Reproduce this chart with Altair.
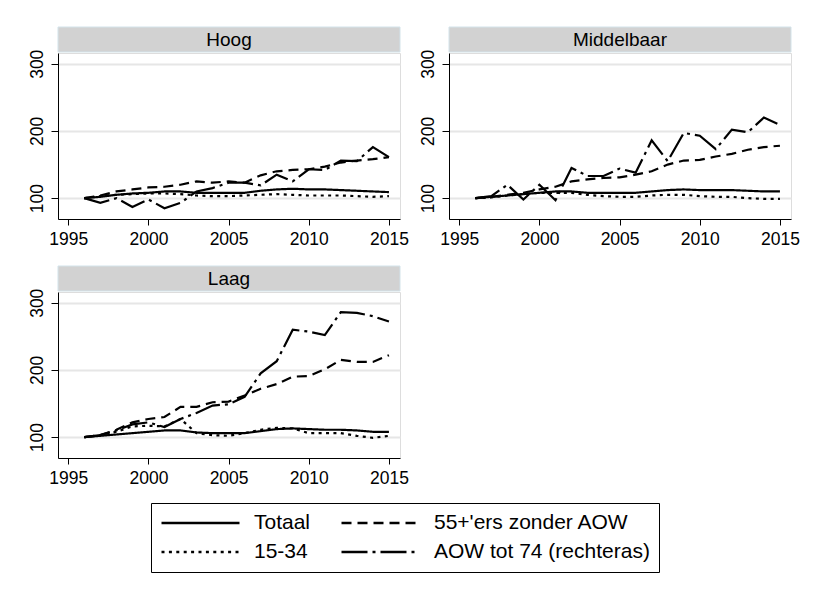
import altair as alt
import pandas as pd

FONT = "Liberation Sans"

jaren = list(range(1996, 2016))
niveaus = ["Hoog", "Middelbaar", "Laag"]
reeksen = ["Totaal", "15-34", "55+'ers zonder AOW", "AOW tot 74 (rechteras)"]
strepen = [[1, 0], [3, 4.4], [10, 6], [26, 5, 3, 5]]

totaal_h = [100, 102, 105, 107, 108, 110, 110, 108, 108, 108, 108, 111, 113, 114, 113, 113, 112, 111, 110, 109]
jong_h = [100, 103, 105, 106, 107, 107, 106, 104, 103, 103, 104, 105, 106, 105, 104, 104, 104, 103, 102, 103]
oud_h = [100, 104, 110, 113, 116, 117, 120, 125, 123, 125, 123, 134, 140, 142, 143, 147, 153, 156, 158, 161]
aow_h = [100, 93, 100, 87, 98, 85, 93, 110, 115, 123, 123, 119, 135, 125, 143, 142, 156, 155, 176, 161]

totaal_m = [100, 102, 104, 106, 108, 110, 110, 108, 108, 108, 108, 110, 112, 113, 112, 112, 112, 111, 110, 110]
jong_m = [100, 101, 104, 106, 108, 108, 108, 105, 103, 102, 102, 104, 105, 105, 103, 102, 102, 100, 99, 99]
oud_m = [100, 102, 105, 108, 113, 117, 125, 128, 130, 131, 135, 140, 150, 156, 157, 162, 166, 172, 176, 178]
aow_m = [100, 103, 120, 98, 120, 97, 145, 133, 133, 144, 138, 186, 155, 197, 193, 173, 202, 198, 220, 209]

totaal_l = [100, 102, 104, 106, 108, 110, 110, 107, 106, 106, 106, 109, 112, 113, 112, 111, 111, 110, 108, 108]
jong_l = [100, 103, 108, 116, 117, 116, 127, 106, 103, 102, 106, 111, 114, 113, 106, 106, 106, 102, 99, 102]
oud_l = [100, 103, 111, 122, 127, 130, 145, 145, 152, 153, 162, 172, 179, 190, 191, 201, 215, 212, 212, 222]
aow_l = [100, 103, 110, 119, 122, 115, 127, 136, 147, 149, 160, 195, 213, 260, 257, 252, 286, 285, 280, 272]

series = {
    "Hoog": {"Totaal": totaal_h, "15-34": jong_h, "55+'ers zonder AOW": oud_h, "AOW tot 74 (rechteras)": aow_h},
    "Middelbaar": {"Totaal": totaal_m, "15-34": jong_m, "55+'ers zonder AOW": oud_m, "AOW tot 74 (rechteras)": aow_m},
    "Laag": {"Totaal": totaal_l, "15-34": jong_l, "55+'ers zonder AOW": oud_l, "AOW tot 74 (rechteras)": aow_l},
}

rows = []
for niv, d in series.items():
    for reeks, vals in d.items():
        for j, v in zip(jaren, vals):
            rows.append({"niveau": niv, "reeks": reeks, "jaar": j, "waarde": v})
df = pd.DataFrame(rows)

W, H = 342, 166

xaxis = alt.Axis(values=[1995, 2000, 2005, 2010, 2015], format="d", grid=False, tickSize=6,
                 labelFontSize=17.5, labelFont=FONT, labelColor="black", domainColor="black",
                 tickColor="black", title=None, labelPadding=5, labelFlush=False)
yaxis = alt.Axis(values=[100, 200, 300], grid=True, gridColor="#e6e6e6", gridWidth=2, tickSize=7,
                 labelAngle=270, labelAlign="center", labelBaseline="bottom", labelPadding=5,
                 labelFontSize=17.5, labelFont=FONT, labelColor="black", domainColor="black",
                 tickColor="black", title=None, minExtent=44, maxExtent=44, labelFlush=False)

legend = alt.Legend(title=None, orient="none", legendX=93, legendY=450, columns=2,
                    symbolType="stroke", symbolSize=6084, symbolStrokeWidth=2.5,
                    symbolStrokeColor="black", clipHeight=22, labelFontSize=21, labelFont=FONT,
                    labelColor="black", labelOffset=13, columnPadding=29, rowPadding=7,
                    padding=9, strokeColor="black", labelLimit=400)


def panel(niv):
    strip_df = pd.DataFrame({"niveau": [niv]})
    bg = alt.Chart(strip_df).mark_rect(fill="#d2d2d2", stroke="#d3e3ea", strokeWidth=1).encode(
        x=alt.value(0), x2=alt.value(W), y=alt.value(-26), y2=alt.value(-1))
    txt = alt.Chart(strip_df).mark_text(fontSize=19, font=FONT, color="black", baseline="middle").encode(
        text="niveau:N", x=alt.value(W / 2), y=alt.value(-13))
    lines = alt.Chart(df[df.niveau == niv]).mark_line(strokeWidth=2.2, color="black").encode(
        x=alt.X("jaar:Q", scale=alt.Scale(domain=[1994.36, 2015.69], nice=False, zero=False), axis=xaxis),
        y=alt.Y("waarde:Q", scale=alt.Scale(domain=[69, 316], nice=False, zero=False), axis=yaxis),
        strokeDash=alt.StrokeDash("reeks:N", scale=alt.Scale(domain=reeksen, range=strepen), legend=legend),
    )
    return alt.layer(lines, bg, txt).properties(width=W, height=H)


chart = alt.concat(panel("Hoog"), panel("Middelbaar"), panel("Laag"), columns=2,
                   spacing={"row": 73, "column": 49}, bounds="flush").properties(
    padding={"left": 5, "top": 18, "right": 5, "bottom": 5}
).configure_view(stroke=None).configure(background="white")

chart.save("out.html", embed_options={"renderer": "svg", "actions": False})
